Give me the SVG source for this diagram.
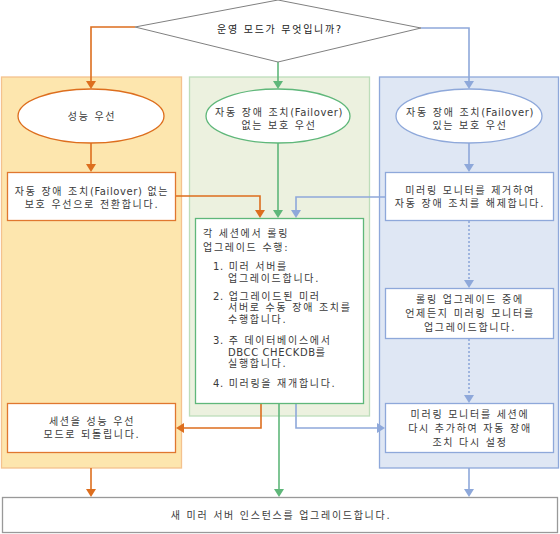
<svg xmlns="http://www.w3.org/2000/svg" width="560" height="534" viewBox="0 0 560 534">
<style>
text{font-family:"DejaVu Sans","Noto Sans CJK KR",sans-serif;font-size:10px;fill:#3a3a3a;letter-spacing:1.7px}
.lat{letter-spacing:0.6px}
.c{text-anchor:middle}
.box{fill:#fff;stroke-width:1.3}
.o{stroke:#E0772F}
.g{stroke:#5FB77A}
.b{stroke:#8EA8DA}
.ln{fill:none;stroke-width:1.6}
</style>
<g id="lanes">
<rect id="lane-perf" x="1.5" y="77" width="180" height="391" fill="#FDE6AE" stroke="#F4C28E" stroke-width="1.3"/>
<rect id="lane-nofail" x="189.5" y="77" width="180" height="339" fill="#ECF1DF" stroke="#BDDDBA" stroke-width="1.3"/>
<rect id="lane-fail" x="379.5" y="77" width="179" height="391" fill="#DFE7F4" stroke="#8EA8DA" stroke-width="1.3"/>
</g>
<g id="connectors">
<path class="ln" stroke="#DD6E1E" d="M135,27 H91 V82"/>
<path d="M86,81 L96,81 L91,89 Z" fill="#DD6E1E"/>
<path class="ln" stroke="#5FB77A" d="M278,62 V82"/>
<path d="M273,81 L283,81 L278,89 Z" fill="#5FB77A"/>
<path class="ln" stroke="#8EA8DA" d="M421,28 H469 V82"/>
<path d="M464,81 L474,81 L469,89 Z" fill="#8EA8DA"/>
<path class="ln" stroke="#DD6E1E" d="M91,143 V165"/>
<path d="M86,164 L96,164 L91,172 Z" fill="#DD6E1E"/>
<path class="ln" stroke="#5FB77A" d="M278,143 V211"/>
<path d="M273,210 L283,210 L278,218 Z" fill="#5FB77A"/>
<path class="ln" stroke="#8EA8DA" d="M469,143 V165"/>
<path d="M464,164 L474,164 L469,172 Z" fill="#8EA8DA"/>
<path class="ln" stroke="#DD6E1E" d="M175,196 H260 V211"/>
<path d="M255,210 L265,210 L260,218 Z" fill="#DD6E1E"/>
<path class="ln" stroke="#8EA8DA" d="M385,197 H296 V211"/>
<path d="M291,210 L301,210 L296,218 Z" fill="#8EA8DA"/>
<path class="ln" stroke="#8EA8DA" stroke-dasharray="2,2" d="M469,221 V281"/>
<path d="M464,280 L474,280 L469,288 Z" fill="#8EA8DA"/>
<path class="ln" stroke="#8EA8DA" stroke-dasharray="2,2" d="M469,339 V396"/>
<path d="M464,395 L474,395 L469,403 Z" fill="#8EA8DA"/>
<path class="ln" stroke="#DD6E1E" d="M261,403 V428 H183"/>
<path d="M184,423 L184,433 L176,428 Z" fill="#DD6E1E"/>
<path class="ln" stroke="#8EA8DA" d="M296,403 V428 H378"/>
<path d="M377,423 L377,433 L385,428 Z" fill="#8EA8DA"/>
<path class="ln" stroke="#5FB77A" d="M279,403 V490"/>
<path d="M274,489 L284,489 L279,497 Z" fill="#5FB77A"/>
<path class="ln" stroke="#DD6E1E" d="M91,468 V490"/>
<path d="M86,489 L96,489 L91,497 Z" fill="#DD6E1E"/>
<path class="ln" stroke="#8EA8DA" d="M469,468 V490"/>
<path d="M464,489 L474,489 L469,497 Z" fill="#8EA8DA"/>
</g>
<g id="decision">
<polygon points="135,27 278,0 421,28 278,62" fill="#fff" stroke="#808080" stroke-width="1"/>
<text class="c" x="280" y="33" style="fill:#222">운영 모드가 무엇입니까?</text>
</g>
<g id="perf-first">
<ellipse cx="91" cy="116" rx="73" ry="27" fill="#fff" stroke="#DD6E1E" stroke-width="1.3"/>
<text class="c" x="92" y="120">성능 우선</text>
</g>
<g id="nofail-first">
<ellipse cx="278" cy="116" rx="72" ry="27" fill="#fff" stroke="#5FB77A" stroke-width="1.3"/>
<text class="c" x="279" y="116">자동 장애 조치<tspan class="lat">(Failover)</tspan></text>
<text class="c" x="279" y="129">없는 보호 우선</text>
</g>
<g id="fail-first">
<ellipse cx="469" cy="116" rx="73" ry="27" fill="#fff" stroke="#8EA8DA" stroke-width="1.3"/>
<text class="c" x="470" y="116">자동 장애 조치<tspan class="lat">(Failover)</tspan></text>
<text class="c" x="470" y="129">있는 보호 우선</text>
</g>
<g id="switch-mode">
<rect class="box o" x="7.5" y="172.5" width="168" height="48"/>
<text class="c" x="92" y="195">자동 장애 조치<tspan class="lat">(Failover)</tspan> 없는</text>
<text class="c" x="92" y="208">보호 우선으로 전환합니다.</text>
</g>
<g id="remove-monitor">
<rect class="box b" x="385.5" y="172.5" width="168" height="48"/>
<text class="c" x="470" y="194">미러링 모니터를 제거하여</text>
<text class="c" x="470" y="207">자동 장애 조치를 해제합니다.</text>
</g>
<g id="rolling-upgrade">
<rect class="box g" x="195.5" y="218.5" width="168" height="185"/>
<text x="203" y="237">각 세션에서 롤링</text>
<text x="203" y="251">업그레이드 수행:</text>
<text x="213" y="270"><tspan class="lat">1.</tspan> 미러 서버를</text>
<text x="228" y="282">업그레이드합니다.</text>
<text x="213" y="300"><tspan class="lat">2.</tspan> 업그레이드된 미러</text>
<text x="228" y="311">서버로 수동 장애 조치를</text>
<text x="228" y="323">수행합니다.</text>
<text x="213" y="344"><tspan class="lat">3.</tspan> 주 데이터베이스에서</text>
<text x="228" y="356"><tspan class="lat">DBCC CHECKDB</tspan>를</text>
<text x="228" y="367">실행합니다.</text>
<text x="213" y="387"><tspan class="lat">4.</tspan> 미러링을 재개합니다.</text>
</g>
<g id="upgrade-monitor">
<rect class="box b" x="385.5" y="288.5" width="168" height="50"/>
<text class="c" x="470" y="303">롤링 업그레이드 중에</text>
<text class="c" x="470" y="317">언제든지 미러링 모니터를</text>
<text class="c" x="470" y="331">업그레이드합니다.</text>
</g>
<g id="restore-perf">
<rect class="box o" x="7.5" y="403.5" width="168" height="49"/>
<text class="c" x="92" y="425">세션을 성능 우선</text>
<text class="c" x="92" y="438">모드로 되돌립니다.</text>
</g>
<g id="readd-monitor">
<rect class="box b" x="385.5" y="403.5" width="168" height="49"/>
<text class="c" x="470" y="418">미러링 모니터를 세션에</text>
<text class="c" x="470" y="432">다시 추가하여 자동 장애</text>
<text class="c" x="470" y="446">조치 다시 설정</text>
</g>
<g id="upgrade-new">
<rect x="2.5" y="497.5" width="555" height="35" fill="#fff" stroke="#999" stroke-width="1.3"/>
<text class="c" x="281" y="519">새 미러 서버 인스턴스를 업그레이드합니다.</text>
</g>
</svg>
